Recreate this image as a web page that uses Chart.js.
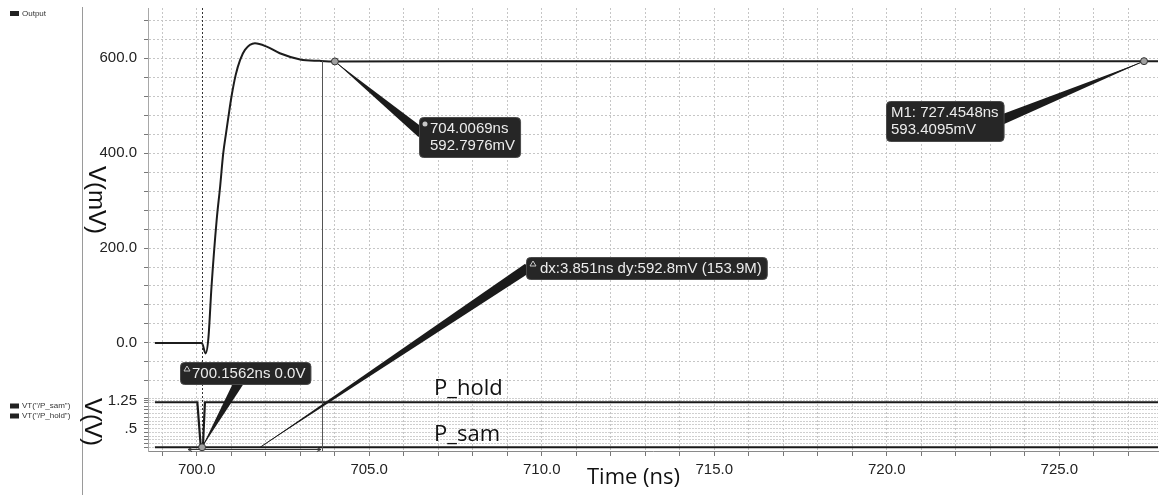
<!DOCTYPE html>
<html>
<head>
<meta charset="utf-8">
<script src="https://cdn.jsdelivr.net/npm/chart.js@4.4.1/dist/chart.umd.min.js"></script>
<style>
  html, body { margin: 0; padding: 0; background: #fff; }
</style>
</head>
<body>
<canvas id="waveChart" width="1159" height="495"></canvas>
<script>
// Output transient (ns, mV)
const outTimeNs = [698.79, 700.15, 700.26, 700.34, 700.43, 700.58, 700.68, 700.77, 700.85, 700.92, 701.01, 701.13, 701.26, 701.40, 701.69, 702.03, 702.41, 703.0, 703.57, 704.0069, 710.0, 720.0, 727.4548, 727.86];
const outMv = [0, 0, -22, 10, 118, 259, 329, 399, 441, 476, 519, 564, 596, 617, 631, 624, 610, 597, 594, 592.8, 593.1, 593.3, 593.4095, 593.4];

// control signals (ns, V)
const holdTimeNs = [698.79, 700.02, 700.12, 700.18, 700.24, 727.86];
const holdV = [1.2, 1.2, 0, 0, 1.2, 1.2];
const samTimeNs = [698.79, 727.86];
const samV = [0, 0];

// tick labels
const timeLabelNs = [700, 705, 710, 715, 720, 725];
const mvLabels = [0, 200, 400, 600];
const vTickValues = [1.25, 0.5];
const vTickText = ['1.25', '.5'];

// cursors and markers
const dashCursorNs = 700.1562;
const solidCursorNs = 703.63;
const dxRangeNs = [699.75, 703.6];
const markerPts = [[704.0069, 592.7976, 'y'], [727.4548, 593.4095, 'y'], [700.1562, 0, 'y2']];
const calloutText = [
  ['704.0069ns', '592.7976mV'],
  ['M1: 727.4548ns', '593.4095mV'],
  ['dx:3.851ns dy:592.8mV (153.9M)'],
  ['700.1562ns 0.0V']
];
const calloutTip = [[704.0069, 592.7976, 'y'], [727.4548, 593.4095, 'y'], [701.84, 0, 'y2'], [700.1562, 0, 'y2']];

// where the callout boxes sit (data units of x / y)
const calloutPlace = [
  { box: [706.44, 434], base: [706.52, 442], icon: 'dot', padL: 11 },
  { box: [719.98, 468], base: [723.3, 469], icon: null, padL: 5 },
  { box: [709.54, 158], base: [709.6, 158], icon: 'delta', padL: 14 },
  { box: [699.53, -63], base: [701.26, -78], icon: 'delta', padL: 12 }
];

const toXY = (xs, ys) => xs.map((x, i) => ({ x: x, y: ys[i] }));
const stepTicks = (from, to, step) => {
  const out = [];
  for (let i = Math.round(from / step); i * step <= to + 1e-9; i++) out.push(Math.round(i * step * 1000) / 1000);
  return out;
};
// fixed axis width, and no extra room reserved for half tick labels
const fitLeftAxis = s => { s.width = 148; s.paddingTop = 0; s.paddingBottom = 0; };

const LABEL_FONT = '"Liberation Sans", Arial, sans-serif';
const BIG_FONT = '"Open Sans", "Noto Sans", sans-serif';

// cursors, markers and callouts
const annotate = {
  id: 'annotate',
  afterDatasetsDraw(chart) {
    const ctx = chart.ctx;
    const area = chart.chartArea;
    const xs = chart.scales.x;
    const py = (v, axis) => chart.scales[axis].getPixelForValue(v);
    ctx.save();

    // dashed cursor
    const xd = Math.round(xs.getPixelForValue(dashCursorNs)) + 0.5;
    ctx.strokeStyle = '#333';
    ctx.lineWidth = 1;
    ctx.setLineDash([2, 2]);
    ctx.beginPath();
    ctx.moveTo(xd, area.top);
    ctx.lineTo(xd, py(0, 'y2'));
    ctx.stroke();
    ctx.setLineDash([]);

    // solid cursor
    const xc = Math.round(xs.getPixelForValue(solidCursorNs)) + 0.5;
    ctx.strokeStyle = '#555';
    ctx.beginPath();
    ctx.moveTo(xc, py(594, 'y'));
    ctx.lineTo(xc, area.bottom);
    ctx.stroke();

    // dx range with little arrow heads
    const ya = Math.round(py(-0.045, 'y2')) + 0.5;
    const xa = xs.getPixelForValue(dxRangeNs[0]);
    const xb = xs.getPixelForValue(dxRangeNs[1]);
    ctx.strokeStyle = '#333';
    ctx.beginPath();
    ctx.moveTo(xa, ya); ctx.lineTo(xb, ya);
    ctx.moveTo(xa + 4, ya - 2); ctx.lineTo(xa, ya); ctx.lineTo(xa + 4, ya + 2);
    ctx.moveTo(xb - 4, ya - 2); ctx.lineTo(xb, ya); ctx.lineTo(xb - 4, ya + 2);
    ctx.stroke();

    // callout wedges
    ctx.fillStyle = '#1b1b1b';
    ctx.strokeStyle = '#1b1b1b';
    calloutTip.forEach((tip, i) => {
      const tx = xs.getPixelForValue(tip[0]), ty = py(tip[1], tip[2]);
      const bx = xs.getPixelForValue(calloutPlace[i].base[0]), by = py(calloutPlace[i].base[1], 'y');
      const len = Math.hypot(bx - tx, by - ty);
      const nx = -(by - ty) / len * 5, ny = (bx - tx) / len * 5;
      ctx.beginPath();
      ctx.moveTo(tx, ty);
      ctx.lineTo(bx + nx, by + ny);
      ctx.lineTo(bx - nx, by - ny);
      ctx.closePath();
      ctx.fill();
      ctx.lineWidth = 1;
      ctx.beginPath();
      ctx.moveTo(tx, ty);
      ctx.lineTo(bx, by);
      ctx.stroke();
    });

    // marker circles
    markerPts.forEach(p => {
      ctx.beginPath();
      ctx.arc(xs.getPixelForValue(p[0]), py(p[1], p[2]), 3.5, 0, Math.PI * 2);
      ctx.fillStyle = '#a0a0a0';
      ctx.fill();
      ctx.strokeStyle = '#333';
      ctx.lineWidth = 1;
      ctx.stroke();
    });

    // callout boxes
    ctx.font = '15px ' + LABEL_FONT;
    ctx.textBaseline = 'middle';
    ctx.textAlign = 'left';
    calloutText.forEach((lines, i) => {
      const place = calloutPlace[i];
      const w = Math.max(...lines.map(l => ctx.measureText(l).width)) + place.padL + 5;
      const h = lines.length === 1 ? 22 : 40;
      const left = Math.round(xs.getPixelForValue(place.box[0]));
      const cy = py(place.box[1], 'y');
      const top = Math.round(cy - h / 2);
      ctx.fillStyle = '#262626';
      ctx.strokeStyle = '#4a4a4a';
      ctx.beginPath();
      ctx.roundRect(left + 0.5, top + 0.5, w, h, 4);
      ctx.fill();
      ctx.stroke();
      if (place.icon === 'dot') {
        ctx.fillStyle = '#c8c8c8';
        ctx.beginPath();
        ctx.arc(left + 6, top + 7, 2.5, 0, Math.PI * 2);
        ctx.fill();
      } else if (place.icon === 'delta') {
        ctx.strokeStyle = '#c8c8c8';
        ctx.beginPath();
        ctx.moveTo(left + 4, top + 9);
        ctx.lineTo(left + 7, top + 4);
        ctx.lineTo(left + 10, top + 9);
        ctx.closePath();
        ctx.stroke();
      }
      ctx.fillStyle = '#ececec';
      lines.forEach((l, k) => {
        const ly = lines.length === 1 ? top + h / 2 + 0.5 : top + h / 2 + (k === 0 ? -8.5 : 9);
        ctx.fillText(l, left + place.padL, ly);
      });
    });

    // trace names
    ctx.font = '22px ' + BIG_FONT;
    ctx.fillStyle = '#111';
    ctx.textBaseline = 'alphabetic';
    ctx.fillText('P_hold', xs.getPixelForValue(706.88), py(1.395, 'y2'));
    ctx.fillText('P_sam', xs.getPixelForValue(706.88), py(0.17, 'y2'));
    ctx.restore();
  },
  afterDraw(chart) {
    const ctx = chart.ctx;
    ctx.save();
    // signal panel separator
    ctx.strokeStyle = '#9a9a9a';
    ctx.lineWidth = 1;
    ctx.beginPath();
    ctx.moveTo(82.5, 7);
    ctx.lineTo(82.5, 495);
    ctx.stroke();

    // legend entries
    ctx.font = '8px ' + LABEL_FONT;
    ctx.textBaseline = 'middle';
    ctx.fillStyle = '#222';
    [['Output', 13.5], ['VT("/P_sam")', 406], ['VT("/P_hold")', 416]].forEach(e => {
      ctx.fillStyle = '#222';
      ctx.fillRect(10, e[1] - 2.5, 9, 5);
      ctx.fillStyle = '#333';
      ctx.fillText(e[0], 22, e[1]);
    });

    // rotated axis titles
    ctx.font = '24px ' + LABEL_FONT;
    ctx.fillStyle = '#111';
    ctx.textBaseline = 'alphabetic';
    [['V(mV)', 89, 166], ['V(V)', 85, 398]].forEach(t => {
      ctx.save();
      ctx.translate(t[1], t[2]);
      ctx.rotate(Math.PI / 2);
      ctx.fillText(t[0], 0, 0);
      ctx.restore();
    });

    ctx.font = '22px ' + BIG_FONT;
    ctx.fillText('Time (ns)', 587, 484);
    ctx.restore();
  }
};

const gridColor = '#c6c6c6';

new Chart(document.getElementById('waveChart'), {
  type: 'line',
  data: {
    datasets: [
      {
        label: 'Output',
        data: toXY(outTimeNs, outMv),
        yAxisID: 'y',
        borderColor: '#1c1c1c',
        borderWidth: 2,
        pointRadius: 0,
        cubicInterpolationMode: 'monotone'
      },
      {
        label: 'VT("/P_hold")',
        data: toXY(holdTimeNs, holdV),
        yAxisID: 'y2',
        borderColor: '#1a1a1a',
        borderWidth: 2.2,
        pointRadius: 0,
        tension: 0
      },
      {
        label: 'VT("/P_sam")',
        data: toXY(samTimeNs, samV),
        yAxisID: 'y2',
        borderColor: '#1a1a1a',
        borderWidth: 2.2,
        pointRadius: 0,
        tension: 0
      }
    ]
  },
  options: {
    responsive: false,
    animation: false,
    layout: { padding: { top: 8, right: 1, left: 0, bottom: 0 } },
    plugins: { legend: { display: false }, tooltip: { enabled: false } },
    scales: {
      x: {
        type: 'linear',
        min: 698.59,
        max: 727.86,
        afterBuildTicks: s => { s.ticks = stepTicks(699, 727, 1).map(v => ({ value: v })); },
        afterFit: s => { s.height = 44; },
        ticks: {
          autoSkip: false,
          maxRotation: 0,
          padding: 5,
          color: '#222',
          font: { size: 15, family: LABEL_FONT },
          callback: v => timeLabelNs.includes(v) ? v.toFixed(1) : ''
        },
        grid: { color: gridColor, tickColor: '#777', tickLength: 5, tickBorderDash: [] },
        border: { color: '#8a8a8a', dash: [2, 2] }
      },
      // bottom strip (stacked axes are placed bottom first)
      y2: {
        type: 'linear',
        position: 'left',
        stack: 'volt',
        stackWeight: 54,
        min: -0.1,
        max: 1.34,
        afterBuildTicks: s => {
          const grid = stepTicks(-0.05, 1.3, 0.1);
          const vals = grid.concat(vTickValues.filter(v => !grid.includes(v)));
          s.ticks = vals.sort((a, b) => a - b).map(v => ({ value: v }));
        },
        afterFit: fitLeftAxis,
        ticks: {
          autoSkip: false,
          padding: 7,
          color: '#222',
          font: { size: 15, family: LABEL_FONT },
          callback: v => {
            const k = vTickValues.indexOf(v);
            return k >= 0 ? vTickText[k] : '';
          }
        },
        grid: { color: '#cfcfcf', tickColor: '#777', tickLength: 4, tickBorderDash: [] },
        border: { color: '#a8a8a8', dash: [2, 1] }
      },
      y: {
        type: 'linear',
        position: 'left',
        stack: 'volt',
        stackWeight: 389,
        min: -113.7,
        max: 705.3,
        afterBuildTicks: s => { s.ticks = stepTicks(-80, 680, 40).map(v => ({ value: v })); },
        afterFit: fitLeftAxis,
        ticks: {
          autoSkip: false,
          padding: 7,
          color: '#222',
          font: { size: 15, family: LABEL_FONT },
          callback: v => mvLabels.includes(v) ? v.toFixed(1) : ''
        },
        grid: { color: gridColor, tickColor: '#777', tickLength: 4, tickBorderDash: [] },
        border: { color: '#a8a8a8', dash: [2, 2] }
      }
    }
  },
  plugins: [annotate]
});
</script>
</body>
</html>
